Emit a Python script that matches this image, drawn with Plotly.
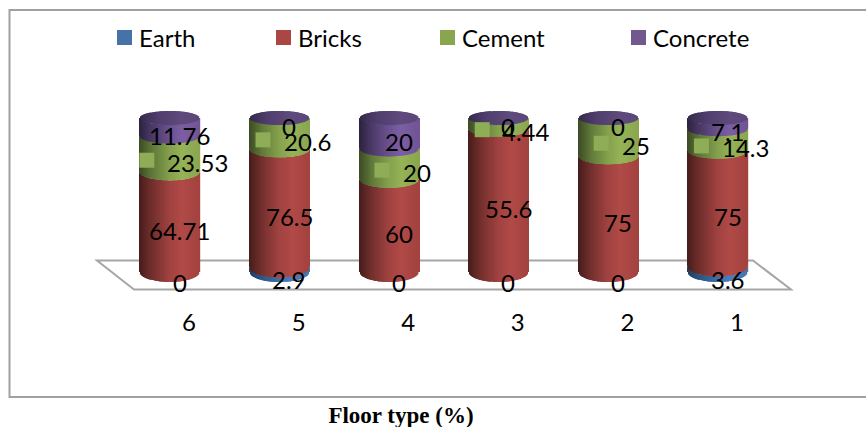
import numpy as np
import plotly.graph_objects as go

# Floor type shares per building class
categories = ["6", "5", "4", "3", "2", "1"]
earth = [0, 2.9, 0, 0, 0, 3.6]
bricks = [64.71, 76.5, 60, 55.6, 75, 75]
cement = [23.53, 20.6, 20, 4.44, 25, 14.3]
concrete = [11.76, 0, 20, 0, 0, 7.1]
series_names = ["Earth", "Bricks", "Cement", "Concrete"]
series_values = [earth, bricks, cement, concrete]

LABEL_FONT = dict(family="Lato, Open Sans, sans-serif", size=24, color="#000000")

# Plot area in pixels, and the scale of both axes
FIG_W, FIG_H = 866, 427
PL, PR, PT, PB = 90, 800, 100, 295
X0_PX, PX_PER_CAT = 170, 109.6
Y0_PX, PX_PER_PCT = 272, 1.54
BAR_W_PX = 59
SLICES = 59

# Horizontal shading across a cylinder: position (0..1) -> colour
SHADES = {
    "Earth": [(0, "#1f3f63"), (0.25, "#2f5a8a"), (0.7, "#4a7ebb"), (1, "#4375ad")],
    "Bricks": [(0, "#471d1b"), (0.22, "#74302e"), (0.5, "#a04240"), (0.72, "#b04a47"), (1, "#a3423f")],
    "Cement": [(0, "#3d4c25"), (0.22, "#617a3a"), (0.5, "#83a04c"), (0.72, "#95b356"), (1, "#8aa650")],
    "Concrete": [(0, "#2d2240"), (0.22, "#4c3a69"), (0.5, "#6a5190"), (0.72, "#7c5fa3"), (1, "#705493")],
    "cap": [(0, "#35294a"), (0.3, "#4f3d6c"), (0.7, "#5e4a7c"), (1, "#5b4778")],
}
LEGEND_COLORS = {"Earth": "#4572a7", "Bricks": "#aa4643", "Cement": "#89a54e", "Concrete": "#71588f"}
KEY_COLOR = "#8fac57"
GRID_GREY = "#a6a6a6"


def hex_rgb(h):
    return np.array([int(h[i:i + 2], 16) for i in (1, 3, 5)], dtype=float)


def shade(stops, pos):
    xs = [s[0] for s in stops]
    rgb = np.array([hex_rgb(s[1]) for s in stops])
    vals = [np.interp(pos, xs, rgb[:, k]) for k in range(3)]
    return "rgb(%d,%d,%d)" % tuple(int(round(v)) for v in vals)


def paper_x(px):
    return (px - PL) / (PR - PL)


def paper_y(py):
    return (PB - py) / (PB - PT)


def ellipse_drop(t, pct):
    """Drop of the front rim below the side edge, in axis units; the rim flattens upward."""
    half_height = 10 - 3 * pct / 100
    return half_height * np.sqrt(np.clip(1 - t ** 2, 0, 1)) / PX_PER_PCT


t = np.linspace(-1, 1, SLICES)
pos = (t + 1) / 2
half_bar = BAR_W_PX / 2 / PX_PER_CAT
slice_w = 1.4 * BAR_W_PX / SLICES / PX_PER_CAT
n_cat = len(categories)
totals = np.sum(series_values, axis=0)

fig = go.Figure()
lower = np.zeros(n_cat)
label_points = []
for name, vals in zip(series_names, series_values):
    share = np.array(vals, dtype=float) / totals * 100
    upper = lower + share
    xs, bases, heights = [], [], []
    for i in range(n_cat):
        xs.extend(i + t * half_bar)
        b = lower[i] - ellipse_drop(t, lower[i])
        u = upper[i] - ellipse_drop(t, upper[i])
        bases.extend(b)
        heights.extend(u - b)
    fig.add_trace(go.Bar(
        x=xs, y=heights, base=bases, width=slice_w, name=name, showlegend=False,
        marker=dict(color=[shade(SHADES[name], p) for p in pos] * n_cat, line=dict(width=0)),
        hoverinfo="skip",
    ))
    label_points.append((name, vals, (lower + upper) / 2))
    lower = upper

# Top caps of the cylinders
xs, bases, heights = [], [], []
for i in range(n_cat):
    d = ellipse_drop(t, 100)
    xs.extend(i + t * half_bar)
    bases.extend(100 - d)
    heights.extend(2 * d)
fig.add_trace(go.Bar(
    x=xs, y=heights, base=bases, width=slice_w, showlegend=False,
    marker=dict(color=[shade(SHADES["cap"], p) for p in pos] * n_cat, line=dict(width=0)),
    hoverinfo="skip",
))

# Data labels; the cement labels sit beside a small legend key
annotations = []
key_x, key_y = [], []
for name, vals, mids in label_points:
    for i, v in enumerate(vals):
        text = str(v)
        if name == "Cement":
            xshift = 27.5
            width = sum(5.5 if c == "." else 13.2 for c in text)
            key_x.append(i + (xshift - width / 2 - 21.5) / PX_PER_CAT)
            key_y.append(mids[i] - 6 / PX_PER_PCT)
        else:
            xshift = 9.5
        yshift = -10 if name == "Earth" else -8
        annotations.append(dict(
            x=i, y=mids[i], xref="x", yref="y", text=text, showarrow=False,
            xshift=xshift, yshift=yshift, font=LABEL_FONT, xanchor="center", yanchor="middle",
        ))
fig.add_trace(go.Scatter(
    x=key_x, y=key_y, mode="markers", showlegend=False, hoverinfo="skip",
    marker=dict(symbol="square", size=15, color=KEY_COLOR, line=dict(width=0)),
))

shapes = [
    # Outer frame of the chart
    dict(type="rect", xref="paper", yref="paper", layer="below",
         x0=paper_x(9.5), x1=paper_x(890), y0=paper_y(397), y1=paper_y(10),
         line=dict(color="#a0a0a0", width=2)),
    # Chart floor
    dict(type="path", xref="paper", yref="paper", layer="below",
         path="M %f %f L %f %f L %f %f L %f %f Z" % (
             paper_x(97), paper_y(260.5), paper_x(753), paper_y(260.5),
             paper_x(791), paper_y(289.5), paper_x(134), paper_y(289.5)),
         line=dict(color=GRID_GREY, width=2)),
]

# Legend row
legend_px = {"Earth": 117, "Bricks": 276, "Cement": 440, "Concrete": 631}
for name in series_names:
    x = legend_px[name]
    shapes.append(dict(type="rect", xref="paper", yref="paper",
                       x0=paper_x(x), x1=paper_x(x + 15), y0=paper_y(45), y1=paper_y(30),
                       fillcolor=LEGEND_COLORS[name], line=dict(width=0)))
    annotations.append(dict(x=paper_x(x + 20), y=paper_y(37), xref="paper", yref="paper",
                            text=name, showarrow=False, xanchor="left", yanchor="middle",
                            font=LABEL_FONT))

fig.update_layout(
    width=FIG_W, height=FIG_H, autosize=False,
    margin=dict(l=PL, r=FIG_W - PR, t=PT, b=FIG_H - PB, autoexpand=False),
    barmode="overlay", showlegend=False,
    paper_bgcolor="white", plot_bgcolor="rgba(0,0,0,0)",
    title=dict(text="<b>Floor type (%)</b>", x=401 / FIG_W, xref="container", xanchor="center",
               y=1 - 415 / FIG_H, yref="container", yanchor="middle",
               font=dict(family="Liberation Serif, serif", size=23, color="#000000")),
    xaxis=dict(range=[(PL - X0_PX) / PX_PER_CAT, (PR - X0_PX) / PX_PER_CAT],
               tickmode="array", tickvals=list(range(n_cat)), ticktext=categories,
               ticks="", showline=False, showgrid=False, zeroline=False,
               ticklabelshift=19, ticklabelstandoff=11, tickfont=LABEL_FONT, fixedrange=True),
    yaxis=dict(range=[(Y0_PX - PB) / PX_PER_PCT, (Y0_PX - PT) / PX_PER_PCT],
               visible=False, fixedrange=True),
    shapes=shapes, annotations=annotations,
)

fig.write_html("out.html", config=dict(displayModeBar=False))
